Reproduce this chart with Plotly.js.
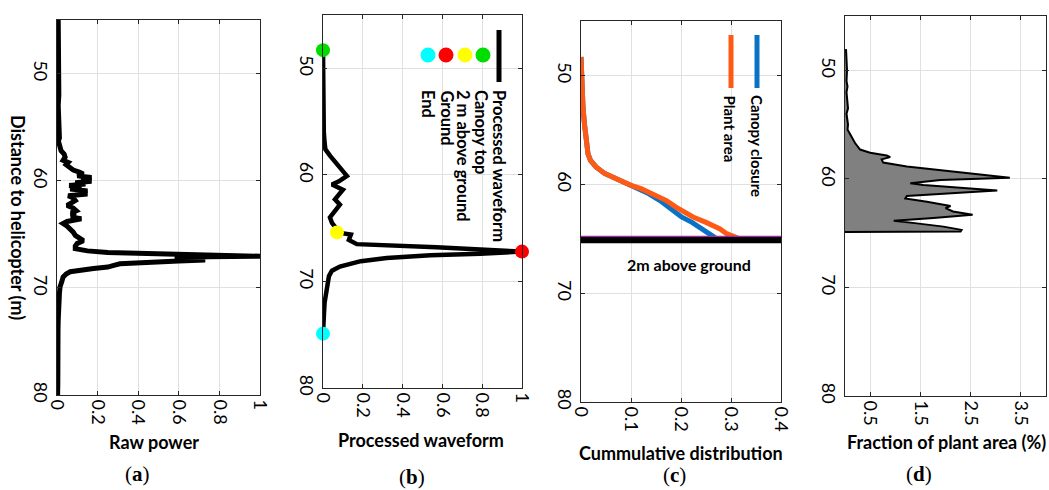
<!DOCTYPE html>
<html><head><meta charset="utf-8">
<script src="https://cdn.plot.ly/plotly-3.0.1.min.js"></script>
<style>html,body{margin:0;padding:0;background:#fff}#chart{width:1049px;height:490px}</style>
</head><body><div id="chart"></div>
<script>
// ---------- (a) raw power ----------
const rawDepth = [45,47,49,50,51,52,53,54,55,56,56.3,56.8,57.2,57.5,57.8,58.1,58.3,58.5,58.75,59.0,59.2,59.37,59.55,59.7,59.9,60.05,60.2,60.3,60.45,60.6,60.77,60.95,61.1,61.25,61.4,61.6,61.85,62.1,62.3,62.55,62.8,63.0,63.2,63.4,63.55,63.8,64.0,64.25,64.5,64.8,65.1,65.35,65.6,65.85,66.1,66.35,66.55,66.7,66.85,66.95,67.05,67.12,67.2,67.3,67.4,67.5,67.6,67.75,67.9,68.06,68.2,68.3,68.5,68.7,69.0,69.46,69.9,70.5,71,72,73,74,75,76,77,78,79,80];
const rawPower = [0.006,0.008,0.006,0.01,0.007,0.009,0.006,0.01,0.008,0.012,0.007,0.015,0.02,0.035,0.04,0.03,0.055,0.045,0.065,0.08,0.11,0.13,0.10,0.17,0.12,0.17,0.09,0.14,0.06,0.12,0.065,0.15,0.11,0.15,0.055,0.08,0.09,0.06,0.05,0.08,0.095,0.07,0.09,0.07,0.12,0.05,0.03,0.05,0.065,0.08,0.09,0.11,0.13,0.10,0.09,0.09,0.15,0.25,0.5,0.8,1.0,0.62,0.58,0.68,0.73,0.60,0.43,0.31,0.28,0.25,0.18,0.15,0.065,0.045,0.03,0.023,0.015,0.012,0.01,0.008,0.006,0.005,0.006,0.004,0.005,0.003,0.004,0.003];

// ---------- (b) processed waveform ----------
const procDepth = [48.3,50,52,54,56,57,57.6,58.2,58.8,59.5,60.1,60.6,60.9,61.4,61.8,62.3,62.8,63.4,64.0,64.5,65.1,65.4,65.6,66.1,66.5,66.8,67.05,67.2,67.4,67.55,67.8,68.1,68.6,69.0,69.5,70.1,70.6,71,72,73,74,74.9];
const procValue = [0,0,0,0.002,0.004,0.008,0.012,0.035,0.06,0.09,0.12,0.08,0.045,0.1,0.08,0.06,0.085,0.06,0.035,0.045,0.07,0.07,0.14,0.13,0.17,0.57,0.82,1.0,0.79,0.54,0.32,0.19,0.085,0.045,0.03,0.025,0.02,0.012,0.008,0.005,0.003,0];
const keyNames  = ['Canopy top','2 m above ground','Ground','End'];
const keyDepth  = [48.3, 65.4, 67.2, 74.9];
const keyValue  = [0, 0.07, 1.0, 0];
const keyColors = ['#00dd00','#ffff00','#ff0000','#00ffff'];

// ---------- (c) cumulative distribution ----------
const cumDepth = [48.3,49.9,51.5,52.9,54.5,55.96,57.2,57.8,58.4,59.0,59.6,60.1,60.4,60.85,61.5,62.1,62.5,63.0,63.5,64.1,64.5,64.8,65.05];
const plantArea = [0,0.001,0.002,0.004,0.007,0.011,0.014,0.019,0.03,0.047,0.074,0.1,0.12,0.143,0.171,0.19,0.205,0.224,0.25,0.278,0.29,0.305,0.32];
const canopyClosure = [0,0.001,0.002,0.004,0.007,0.011,0.014,0.019,0.03,0.047,0.074,0.098,0.115,0.135,0.158,0.175,0.185,0.201,0.222,0.243,0.258,0.265,0.272];
const groundLevel = 65.1;

// ---------- (d) fraction of plant area ----------
const fracDepth = [48.05,49,50,51,51.5,52,53,53.5,54,54.5,55,55.46,56.1,56.7,57.3,57.6,57.85,58.0,58.2,58.5,58.86,59.2,59.5,59.9,60.1,60.4,60.56,60.86,61.08,61.3,61.57,61.8,62.1,62.5,62.7,63.0,63.3,63.6,63.86,64.1,64.4,64.7,64.85,64.9];
const fracValue = [0.02,0.03,0.04,0.03,0.05,0.03,0.04,0.06,0.03,0.05,0.06,0.05,0.12,0.2,0.3,0.5,0.83,0.9,0.73,0.76,1.23,1.9,2.55,3.28,1.9,1.3,1.56,2.4,3.03,2.2,1.23,1.2,1.63,2.1,2.0,2.15,2.54,1.76,0.97,1.43,1.96,2.32,2.3,0];

// ---------- ticks ----------
const depthTicks = [50,60,70,80];
const unitTicks = [0,0.2,0.4,0.6,0.8,1];
const unitText = ['0','0.2','0.4','0.6','0.8','1'];
const cumTicks = [0,0.1,0.2,0.3,0.4];
const cumText = ['0','0.1','0.2','0.3','0.4'];
const fracTicks = [0.5,1.5,2.5,3.5];
const fracText = ['0.5','1.5','2.5','3.5'];

const W = 1049, H = 490;
const px = p => p / W;
const py = p => 1 - p / H;
const FONT = 'Lato, "Open Sans", sans-serif';
const tickFont = {family: FONT, size: 18, color: '#000'};

function yAxis(top, bottom, anchor) {
  return {domain: [py(bottom), py(top)], range: [80, 45], tickvals: depthTicks,
    tickangle: 90, showgrid: true, gridcolor: '#e0e0e0', gridwidth: 1,
    showline: true, linecolor: '#262626', linewidth: 1, mirror: 'ticks',
    ticks: 'inside', ticklen: 4, tickcolor: '#262626', zeroline: false,
    anchor: anchor, tickfont: tickFont, ticklabelstandoff: 0, fixedrange: true};
}
function xAxis(left, right, range, vals, text, anchor) {
  return {domain: [px(left), px(right)], range: range, tickvals: vals, ticktext: text,
    tickangle: 90, showgrid: true, gridcolor: '#e0e0e0', gridwidth: 1,
    showline: true, linecolor: '#262626', linewidth: 1, mirror: 'ticks',
    ticks: 'inside', ticklen: 4, tickcolor: '#262626', zeroline: false,
    anchor: anchor, tickfont: tickFont, ticklabelstandoff: 0, fixedrange: true};
}

const traces = [
  {x: rawPower, y: rawDepth, xaxis: 'x', yaxis: 'y', mode: 'lines',
   line: {color: '#000', width: 5}, showlegend: false, hoverinfo: 'skip'},
  {x: procValue, y: procDepth, xaxis: 'x2', yaxis: 'y2', mode: 'lines',
   line: {color: '#000', width: 4.5}, showlegend: false, hoverinfo: 'skip'},
  {x: keyValue, y: keyDepth, xaxis: 'x2', yaxis: 'y2', mode: 'markers', text: keyNames,
   marker: {color: keyColors, size: 14}, cliponaxis: false, showlegend: false, hoverinfo: 'text'},
  {x: canopyClosure, y: cumDepth, xaxis: 'x3', yaxis: 'y3', mode: 'lines',
   line: {color: '#0a72c4', width: 5}, showlegend: false, hoverinfo: 'skip'},
  {x: plantArea, y: cumDepth, xaxis: 'x3', yaxis: 'y3', mode: 'lines',
   line: {color: '#ff5a14', width: 5}, showlegend: false, hoverinfo: 'skip'},
  {x: [0, 0.4], y: [groundLevel, groundLevel], xaxis: 'x3', yaxis: 'y3', mode: 'lines',
   line: {color: '#000', width: 7}, showlegend: false, hoverinfo: 'skip'},
  {x: [0, 0.4], y: [groundLevel - 0.32, groundLevel - 0.32], xaxis: 'x3', yaxis: 'y3', mode: 'lines',
   line: {color: '#b020b0', width: 1.2}, showlegend: false, hoverinfo: 'skip'},
  {x: fracValue, y: fracDepth, xaxis: 'x4', yaxis: 'y4', mode: 'lines', fill: 'tozerox',
   fillcolor: '#808080', line: {color: '#000', width: 2}, showlegend: false, hoverinfo: 'skip'}
];

function circle(cx, cy, r, color) {
  return {type: 'circle', xref: 'paper', yref: 'paper', x0: px(cx - r), x1: px(cx + r),
    y0: py(cy + r), y1: py(cy - r), fillcolor: color, line: {width: 0}, layer: 'above'};
}
function vline(x, y0, y1, color, w) {
  return {type: 'line', xref: 'paper', yref: 'paper', x0: px(x), x1: px(x), y0: py(y0), y1: py(y1),
    line: {color: color, width: w}, layer: 'above'};
}
function box(x0, y0, x1, y1) {
  return {type: 'rect', xref: 'paper', yref: 'paper', x0: px(x0), x1: px(x1), y0: py(y1), y1: py(y0),
    fillcolor: '#fff', line: {width: 0}, layer: 'between'};
}
function rotText(text, x, yTop, size) {
  return {text: text, xref: 'paper', yref: 'paper', x: px(x), y: py(yTop), xanchor: 'center',
    yanchor: 'top', textangle: 90, showarrow: false,
    font: {family: FONT, size: size, color: '#000', weight: 'bold'}};
}
function hText(text, x, y, size, family) {
  return {text: text, xref: 'paper', yref: 'paper', x: px(x), y: py(y), xanchor: 'center',
    yanchor: 'middle', showarrow: false,
    font: {family: family || FONT, size: size, color: '#000', weight: family ? 'normal' : 'bold'}};
}

const legendCols = [483, 465, 446, 428];
const shapes = [
  box(416, 15, 522, 240),
  box(713, 21, 781, 207),
  vline(499, 30, 82, '#000', 5),
  vline(757, 35, 88, '#0a72c4', 5),
  vline(731, 35, 88, '#ff5a14', 5)
];
keyColors.forEach((c, i) => shapes.push(circle(legendCols[i], 55, 7.5, c)));

const SERIF = '"Liberation Serif", "DejaVu Serif", serif';
const annotations = [
  {text: 'Distance to helicopter (m)', xref: 'paper', yref: 'paper', x: px(18), y: py(217),
   xanchor: 'center', yanchor: 'middle', textangle: 90, showarrow: false,
   font: {family: FONT, size: 18, color: '#000', weight: 'bold'}},
  hText('Raw power', 154, 442, 18),
  hText('Processed waveform', 421, 440, 18),
  hText('Cummulative distribution', 681, 453, 18),
  hText('Fraction of plant area (%)', 946, 442, 18),
  hText('(<b>a</b>)', 138, 474, 21, SERIF),
  hText('(<b>b</b>)', 412, 477, 21, SERIF),
  hText('(<b>c</b>)', 674, 475, 21, SERIF),
  hText('(<b>d</b>)', 919, 474, 21, SERIF),
  rotText('Processed waveform', 499, 88, 16.5),
  rotText('Canopy top', 481, 88, 16.5),
  rotText('2 m above ground', 463, 88, 16.5),
  rotText('Ground', 446, 88, 16.5),
  rotText('End', 428, 88, 16.5),
  rotText('Canopy closure', 757, 93, 15),
  rotText('Plant area', 730, 93, 15),
  {text: '2m above ground', xref: 'x3', yref: 'y3', x: 0.216, y: 67.4, showarrow: false,
   xanchor: 'center', yanchor: 'middle', font: {family: FONT, size: 16, color: '#000', weight: 'bold'}}
];

const layout = {
  width: W, height: H, margin: {l: 0, r: 0, t: 0, b: 0},
  paper_bgcolor: '#fff', plot_bgcolor: '#fff', showlegend: false,
  font: {family: FONT, color: '#000'},
  xaxis: xAxis(57, 260, [0, 1], unitTicks, unitText, 'y'),
  yaxis: yAxis(20, 395, 'x'),
  xaxis2: xAxis(323, 522, [0, 1], unitTicks, unitText, 'y2'),
  yaxis2: yAxis(15, 388, 'x2'),
  xaxis3: xAxis(581, 781, [0, 0.4], cumTicks, cumText, 'y3'),
  yaxis3: yAxis(21, 402, 'x3'),
  xaxis4: xAxis(845, 1046, [0, 4], fracTicks, fracText, 'y4'),
  yaxis4: yAxis(16, 396, 'x4'),
  shapes: shapes,
  annotations: annotations
};

Plotly.newPlot('chart', traces, layout, {displayModeBar: false, staticPlot: true});
</script>
</body></html>
